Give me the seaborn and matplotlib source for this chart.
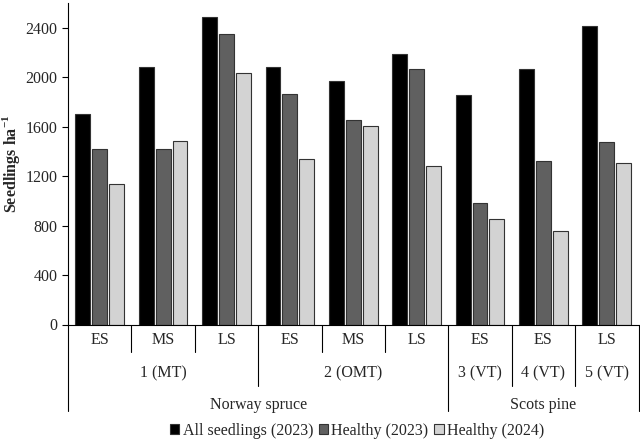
import matplotlib
matplotlib.use("Agg")
import matplotlib.pyplot as plt
import pandas as pd
import seaborn as sns

# data
stages = ["ES", "MS", "LS", "ES", "MS", "LS", "ES", "ES", "LS"]
sites = ["1 (MT)", "1 (MT)", "1 (MT)", "2 (OMT)", "2 (OMT)", "2 (OMT)",
         "3 (VT)", "4 (VT)", "5 (VT)"]
species = ["Norway spruce"] * 6 + ["Scots pine"] * 3
all_2023 = [1700, 2085, 2490, 2085, 1970, 2185, 1855, 2070, 2410]
healthy_2023 = [1418, 1418, 2350, 1865, 1652, 2068, 985, 1320, 1475]
healthy_2024 = [1135, 1485, 2033, 1335, 1603, 1285, 854, 755, 1310]
series_names = ["All seedlings (2023)", "Healthy (2023)", "Healthy (2024)"]
colors = ["#000000", "#606060", "#d3d3d3"]

n = len(stages)
df = pd.DataFrame({
    "pos": list(range(n)) * 3,
    "series": [s for s in series_names for _ in range(n)],
    "value": all_2023 + healthy_2023 + healthy_2024,
})

sns.set_style("ticks")
plt.rcParams["font.family"] = ["Liberation Serif", "DejaVu Serif"]

fig = plt.figure(figsize=(6.4, 4.41), dpi=100)
ax = fig.add_axes([68 / 640, 1 - 324.5 / 441, 570.5 / 640, 321.5 / 441])

sns.barplot(data=df, x="pos", y="value", hue="series", palette=colors,
            width=0.8, gap=0.12, edgecolor="#333333", linewidth=0.8, ax=ax)

ax.set_ylim(0, 2600)
ax.set_yticks(range(0, 2401, 400))
ax.tick_params(axis="y", labelsize=11.5, length=4, width=0.8, color="black")
ax.set_xticks([])
ax.set_xlim(-0.5, n - 0.5)
ax.set_xlabel("")
ax.set_ylabel("Seedlings ha$^{\\mathregular{-1}}$", fontsize=11.5, fontweight="bold")
ax.yaxis.set_label_coords(-0.08, 0.5)
sns.despine(ax=ax)
for sp in ["left", "bottom"]:
    ax.spines[sp].set_linewidth(0.8)
    ax.spines[sp].set_color("black")

tr = ax.get_xaxis_transform()


def yf(px):
    return (324.5 - px) / 321.5


def vline(x, ybot):
    ax.plot([x, x], [0, yf(ybot)], color="black", lw=0.8,
            transform=tr, clip_on=False)


# row 1: stage labels
for i, s in enumerate(stages):
    ax.text(i, yf(340), s, ha="center", va="center", fontsize=11.5, transform=tr)

# group boundaries
bounds = [b - 0.5 for b in range(n + 1)]
site_edges = [0]
for i in range(1, n):
    if sites[i] != sites[i - 1]:
        site_edges.append(i)
site_edges.append(n)
sp_edges = [0]
for i in range(1, n):
    if species[i] != species[i - 1]:
        sp_edges.append(i)
sp_edges.append(n)

for k in range(n + 1):
    if k in sp_edges:
        vline(bounds[k], 411)
    elif k in site_edges:
        vline(bounds[k], 386)
    else:
        vline(bounds[k], 352)

for a, b in zip(site_edges[:-1], site_edges[1:]):
    ax.text((a + b - 1) / 2, yf(373), sites[a], ha="center", va="center",
            fontsize=11.5, transform=tr)
for a, b in zip(sp_edges[:-1], sp_edges[1:]):
    ax.text((a + b - 1) / 2, yf(405), species[a], ha="center", va="center",
            fontsize=11.5, transform=tr)

handles, labels = ax.get_legend_handles_labels()
ax.get_legend().remove()
fig.legend(handles, labels, loc="center", bbox_to_anchor=(357 / 640, 1 - 431 / 441),
           ncol=3, frameon=False, fontsize=11.5, handlelength=0.6, handleheight=0.6,
           handletextpad=0.2, columnspacing=0.35)

fig.savefig("out.png", dpi=100)
